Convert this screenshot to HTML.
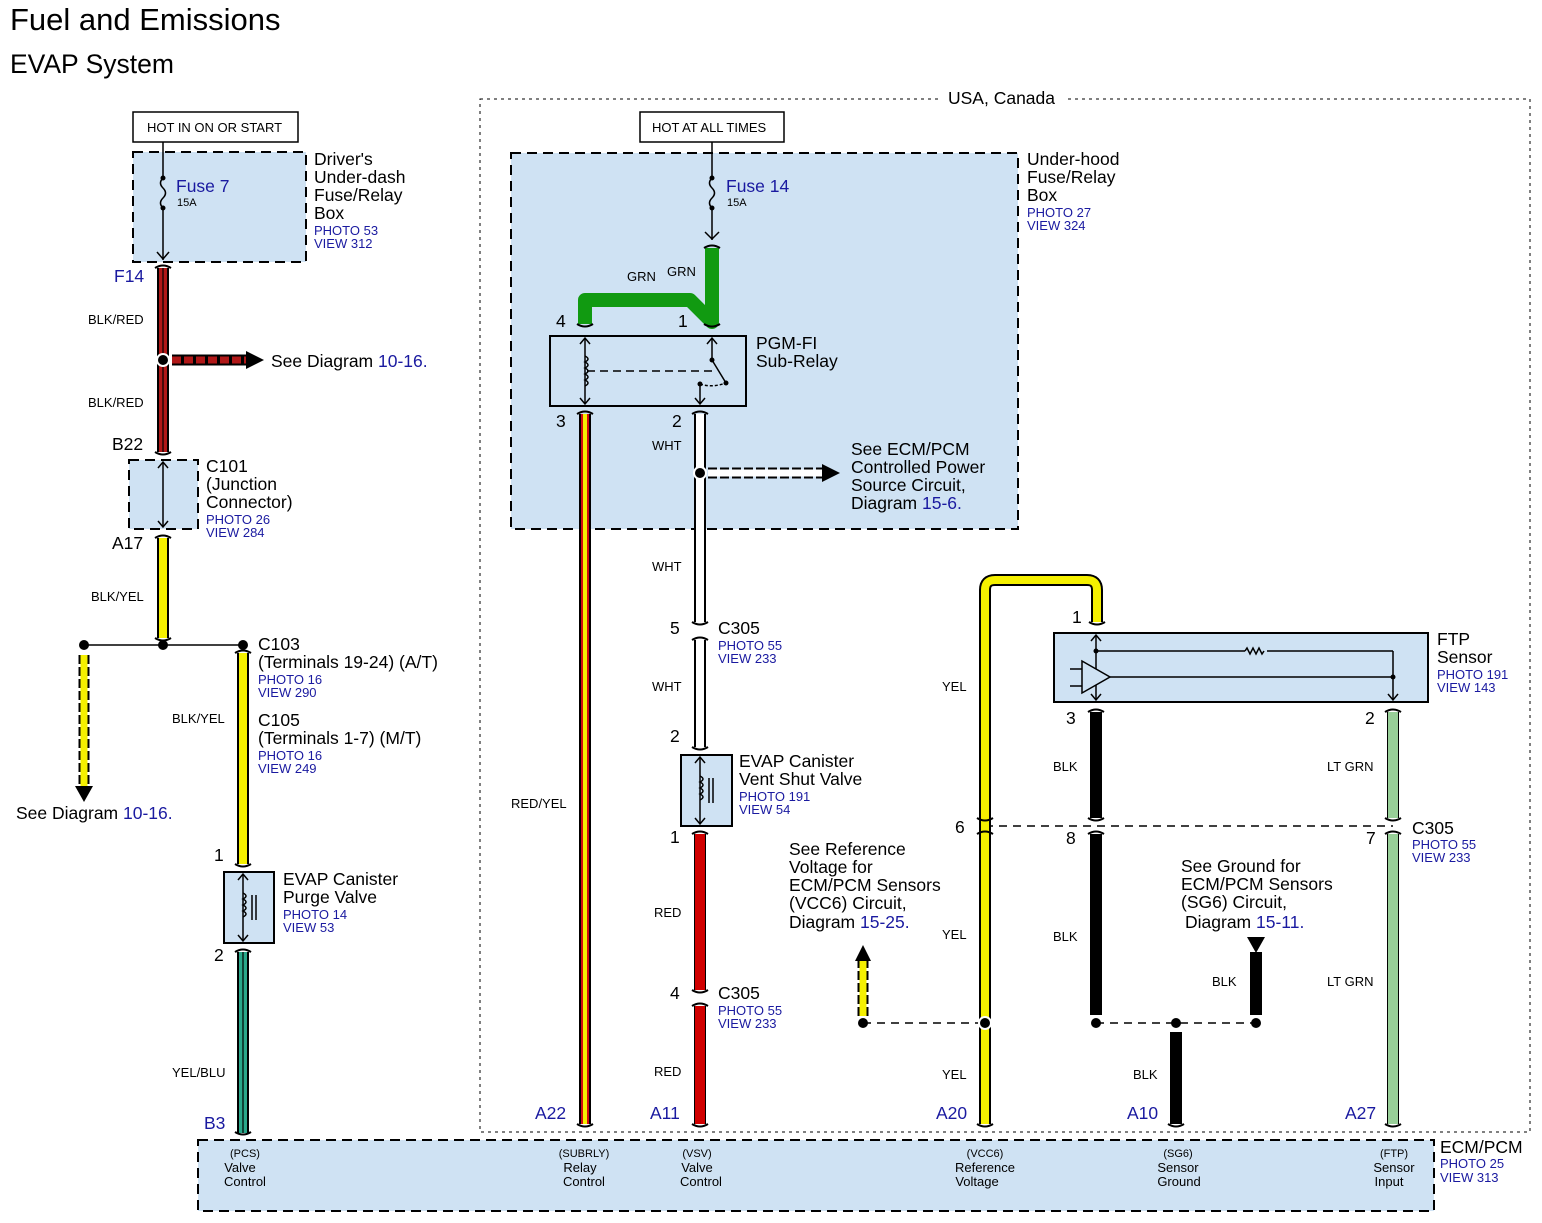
<!DOCTYPE html>
<html><head><meta charset="utf-8"><style>
html,body{margin:0;padding:0;background:#fff}
svg{display:block}
text{font-family:"Liberation Sans",Arial,sans-serif;fill:#000}
.s{font-size:13px}
.m{font-size:17.5px}
.b{fill:#1a1aa0}
.p{font-size:13px;fill:#1a1aa0}
.t{font-size:11px}
</style></head><body>
<svg width="1542" height="1223" viewBox="0 0 1542 1223" xmlns="http://www.w3.org/2000/svg">
<text x="10" y="30" style="font-size:31px">Fuel and Emissions</text>
<text x="10" y="73" style="font-size:26.5px">EVAP System</text>

<rect x="480" y="99" width="1050" height="1033" fill="none" stroke="#000" stroke-width="1" stroke-dasharray="3,4"/>
<rect x="940" y="90" width="125" height="18" fill="#fff"/>
<text x="948" y="104" class="m">USA, Canada</text>

<rect x="133" y="112" width="165" height="30" fill="#fff" stroke="#000" stroke-width="1.5"/>
<text x="147" y="132" class="s">HOT IN ON OR START</text>
<rect x="640" y="112" width="144" height="30" fill="#fff" stroke="#000" stroke-width="1.5"/>
<text x="652" y="132" class="s">HOT AT ALL TIMES</text>

<g fill="#cfe2f3" stroke="#000" stroke-width="2" stroke-dasharray="10,6">
<rect x="133" y="152" width="173" height="110"/>
<rect x="129" y="460" width="69" height="69"/>
<rect x="511" y="153" width="507" height="376"/>
<rect x="198" y="1140" width="1236" height="71"/>
</g>
<g fill="#cfe2f3" stroke="#000" stroke-width="2">
<rect x="550" y="336" width="196" height="70"/>
<rect x="224" y="872" width="50" height="71"/>
<rect x="681" y="755" width="51" height="71"/>
<rect x="1054" y="633" width="374" height="69"/>
</g>

<g stroke="#000" stroke-width="1.5" fill="none">
<line x1="163" y1="142" x2="163" y2="178"/><path d="M163 178 q-5 5 0 10 q5 5 0 10 q-5 5 0 10"/><line x1="163" y1="208" x2="163" y2="260"/>
<path d="M157 252 l6 7 l6 -7"/>
<line x1="712" y1="142" x2="712" y2="178"/><path d="M712 178 q-5 5 0 10 q5 5 0 10 q-5 5 0 10"/><line x1="712" y1="208" x2="712" y2="240"/>
<path d="M705 232 l7 7 l7 -7"/>
<line x1="163" y1="462" x2="163" y2="527"/><path d="M158 468 l5 -6 l5 6 M158 521 l5 6 l5 -6"/>
<line x1="585" y1="338" x2="585" y2="404"/><path d="M580 344 l5 -6 l5 6 M580 398 l5 6 l5 -6"/>
<path d="M585 356 q6 3 0 6 q6 3 0 6 q6 3 0 6 q6 3 0 6 q6 3 0 6"/>
<line x1="587" y1="371" x2="712" y2="371" stroke-dasharray="8,5"/>
<line x1="712" y1="338" x2="712" y2="360"/><path d="M707 344 l5 -6 l5 6"/>
<line x1="712" y1="360" x2="726" y2="383"/>
<path d="M700 384 q12 4 26 -1" stroke-dasharray="3,2"/>
<line x1="700" y1="384" x2="700" y2="404"/><path d="M695 398 l5 6 l5 -6"/>
<line x1="243" y1="874" x2="243" y2="941"/><path d="M238 880 l5 -6 l5 6 M238 935 l5 6 l5 -6"/>
<path d="M243 893 q6 3 0 6 q6 3 0 6 q6 3 0 6 q6 3 0 6"/><line x1="252" y1="895" x2="252" y2="920"/><line x1="256" y1="895" x2="256" y2="920"/>
<line x1="700" y1="757" x2="700" y2="824"/><path d="M695 763 l5 -6 l5 6 M695 818 l5 6 l5 -6"/>
<path d="M700 776 q6 3 0 6 q6 3 0 6 q6 3 0 6 q6 3 0 6"/><line x1="709" y1="778" x2="709" y2="803"/><line x1="713" y1="778" x2="713" y2="803"/>
<line x1="1096" y1="635" x2="1096" y2="700"/><path d="M1091 641 l5 -6 l5 6 M1091 694 l5 6 l5 -6"/>
<line x1="1096" y1="651" x2="1245" y2="651"/><path d="M1245 651 l2 -3 l3 6 l3 -6 l3 6 l3 -6 l3 6 l2 -3"/><line x1="1267" y1="651" x2="1393" y2="651"/>
<line x1="1393" y1="651" x2="1393" y2="700"/><path d="M1388 694 l5 6 l5 -6"/>
<path d="M1082 661 l0 32 l28 -16 z" fill="#cfe2f3"/><line x1="1110" y1="677" x2="1393" y2="677"/>
<line x1="1070" y1="669" x2="1082" y2="669"/><line x1="1070" y1="686" x2="1082" y2="686"/>
</g>
<g fill="#000">
<circle cx="163" cy="178" r="2.5"/><circle cx="163" cy="208" r="2.5"/>
<circle cx="712" cy="178" r="2.5"/><circle cx="712" cy="208" r="2.5"/>
<circle cx="712" cy="360" r="2.5"/><circle cx="726" cy="383" r="2.5"/><circle cx="700" cy="384" r="2.5"/>
<circle cx="1096" cy="651" r="2.5"/><circle cx="1393" cy="677" r="2.5"/>
</g>

<g stroke="#000" stroke-width="1.5" stroke-dasharray="8,6" fill="none">
<line x1="985" y1="826" x2="1393" y2="826"/>
<line x1="863" y1="1023" x2="985" y2="1023"/>
<line x1="1096" y1="1023" x2="1256" y2="1023"/>
</g>
<line x1="84" y1="645" x2="243" y2="645" stroke="#000" stroke-width="1.5"/>

<g stroke="#000" stroke-width="12" fill="none" stroke-linejoin="round">
<line x1="163" y1="268" x2="163" y2="452"/>
<line x1="163" y1="538" x2="163" y2="638"/>
<line x1="243" y1="653" x2="243" y2="864"/>
<line x1="243" y1="952" x2="243" y2="1133"/>
<line x1="585" y1="414" x2="585" y2="1124"/>
<line x1="700" y1="414" x2="700" y2="622"/>
<line x1="700" y1="640" x2="700" y2="747"/>
<line x1="700" y1="834" x2="700" y2="990"/>
<line x1="700" y1="1006" x2="700" y2="1124"/>
<path d="M985 1124 V590 q0 -10 10 -10 H1087 q10 0 10 10 V622"/>
<line x1="1096" y1="712" x2="1096" y2="818"/>
<line x1="1096" y1="834" x2="1096" y2="1015"/>
<line x1="1393" y1="712" x2="1393" y2="818"/>
<line x1="1393" y1="834" x2="1393" y2="1124"/>
<line x1="1256" y1="952" x2="1256" y2="1015"/>
<line x1="1176" y1="1032" x2="1176" y2="1124"/>
</g>
<g stroke-width="8" fill="none" stroke-linejoin="round">
<line x1="163" y1="268" x2="163" y2="452" stroke="#b01818"/>
<line x1="163" y1="538" x2="163" y2="638" stroke="#f5f000"/>
<line x1="243" y1="653" x2="243" y2="864" stroke="#f5f000"/>
<line x1="243" y1="952" x2="243" y2="1133" stroke="#2aa88a"/>
<line x1="585" y1="414" x2="585" y2="1124" stroke="#d01010"/>
<line x1="700" y1="414" x2="700" y2="622" stroke="#fff"/>
<line x1="700" y1="640" x2="700" y2="747" stroke="#fff"/>
<line x1="700" y1="834" x2="700" y2="990" stroke="#d00000" stroke-width="10"/>
<line x1="700" y1="1006" x2="700" y2="1124" stroke="#d00000" stroke-width="10"/>
<path d="M985 1124 V590 q0 -10 10 -10 H1087 q10 0 10 10 V622" stroke="#f5f000"/>
<line x1="1393" y1="712" x2="1393" y2="818" stroke="#98cf98" stroke-width="10"/>
<line x1="1393" y1="834" x2="1393" y2="1124" stroke="#98cf98" stroke-width="10"/>
</g>
<g stroke-width="1.2">
<line x1="163" y1="268" x2="163" y2="452" stroke="#000"/>
<line x1="243" y1="952" x2="243" y2="1133" stroke="#000"/>
</g>
<line x1="585" y1="414" x2="585" y2="1124" stroke="#f5f000" stroke-width="4"/>
<path d="M585 324 V300 H690 L712 322 V248" stroke="#119a11" stroke-width="14" fill="none" stroke-linejoin="round"/>

<g stroke="#000" stroke-width="2" fill="none">
<path d="M155 268 q8 -5 16 0 M155 452 q8 5 16 0 M155 538 q8 -5 16 0 M155 638 q8 5 16 0
M235 653 q8 -5 16 0 M235 864 q8 5 16 0 M235 952 q8 -5 16 0 M235 1132 q8 5 16 0
M577 324 q8 5 16 0 M577 414 q8 -5 16 0 M704 248 q8 -5 16 0 M704 324 q8 5 16 0 M692 414 q8 -5 16 0
M692 622 q8 5 16 0 M692 640 q8 -5 16 0 M692 747 q8 5 16 0 M692 834 q8 -5 16 0 M692 990 q8 5 16 0 M692 1006 q8 -5 16 0
M577 1124 q8 5 16 0 M692 1124 q8 5 16 0 M977 1124 q8 5 16 0 M1168 1124 q8 5 16 0 M1385 1124 q8 5 16 0
M1089 622 q8 5 16 0 M1088 712 q8 -5 16 0 M1385 712 q8 -5 16 0
M977 818 q8 5 16 0 M977 834 q8 -5 16 0 M1088 818 q8 5 16 0 M1088 834 q8 -5 16 0 M1385 818 q8 5 16 0 M1385 834 q8 -5 16 0"/>
</g>

<g fill="#000">
<circle cx="163" cy="360" r="7" fill="#fff"/><circle cx="163" cy="360" r="5"/>
<circle cx="84" cy="645" r="5"/><circle cx="163" cy="645" r="5"/><circle cx="243" cy="645" r="5"/>
<circle cx="700" cy="473" r="7" fill="#fff"/><circle cx="700" cy="473" r="5"/>
<circle cx="863" cy="1023" r="5"/><circle cx="985" cy="1023" r="7" fill="#fff"/><circle cx="985" cy="1023" r="5"/>
<circle cx="1096" cy="1023" r="5"/><circle cx="1176" cy="1023" r="5"/><circle cx="1256" cy="1023" r="5"/>
</g>

<line x1="172" y1="360" x2="248" y2="360" stroke="#000" stroke-width="11"/>
<line x1="172" y1="360" x2="248" y2="360" stroke="#b01818" stroke-width="7" stroke-dasharray="9,3"/>
<path d="M246 351 l18 9 l-18 9 z" fill="#000"/>
<line x1="708" y1="473" x2="822" y2="473" stroke="#000" stroke-width="11" stroke-dasharray="9,3"/>
<line x1="708" y1="473" x2="822" y2="473" stroke="#fff" stroke-width="7"/>
<path d="M822 464 l18 9 l-18 9 z" fill="#000"/>
<line x1="84" y1="655" x2="84" y2="786" stroke="#000" stroke-width="11" stroke-dasharray="9,3"/>
<line x1="84" y1="655" x2="84" y2="786" stroke="#f5f000" stroke-width="7"/>
<path d="M75 786 l9 16 l9 -16 z" fill="#000"/>
<line x1="863" y1="1016" x2="863" y2="960" stroke="#000" stroke-width="11" stroke-dasharray="9,3"/>
<line x1="863" y1="1016" x2="863" y2="960" stroke="#f5f000" stroke-width="7"/>
<path d="M855 961 l8 -16 l8 16 z" fill="#000"/>
<path d="M1247 937 l9 16 l9 -16 z" fill="#000"/>

<text x="176" y="192" class="m b">Fuse 7</text><text x="177" y="206" class="t">15A</text>
<text x="314" y="165" class="m">Driver's</text><text x="314" y="183" class="m">Under-dash</text><text x="314" y="201" class="m">Fuse/Relay</text><text x="314" y="219" class="m">Box</text>
<text x="314" y="235" class="p">PHOTO 53</text><text x="314" y="248" class="p">VIEW 312</text>
<text x="114" y="282" class="m b">F14</text>
<text x="88" y="324" class="s">BLK/RED</text><text x="88" y="407" class="s">BLK/RED</text>
<text x="271" y="367" class="m">See Diagram <tspan class="b">10-16.</tspan></text>
<text x="112" y="450" class="m">B22</text>
<text x="206" y="472" class="m">C101</text><text x="206" y="490" class="m">(Junction</text><text x="206" y="508" class="m">Connector)</text>
<text x="206" y="524" class="p">PHOTO 26</text><text x="206" y="537" class="p">VIEW 284</text>
<text x="112" y="549" class="m">A17</text>
<text x="91" y="601" class="s">BLK/YEL</text>
<text x="258" y="650" class="m">C103</text><text x="258" y="668" class="m">(Terminals 19-24) (A/T)</text>
<text x="258" y="684" class="p">PHOTO 16</text><text x="258" y="697" class="p">VIEW 290</text>
<text x="172" y="723" class="s">BLK/YEL</text>
<text x="258" y="726" class="m">C105</text><text x="258" y="744" class="m">(Terminals 1-7) (M/T)</text>
<text x="258" y="760" class="p">PHOTO 16</text><text x="258" y="773" class="p">VIEW 249</text>
<text x="16" y="819" class="m">See Diagram <tspan class="b">10-16.</tspan></text>
<text x="214" y="861" class="m">1</text>
<text x="283" y="885" class="m">EVAP Canister</text><text x="283" y="903" class="m">Purge Valve</text>
<text x="283" y="919" class="p">PHOTO 14</text><text x="283" y="932" class="p">VIEW 53</text>
<text x="214" y="961" class="m">2</text>
<text x="172" y="1077" class="s">YEL/BLU</text>
<text x="204" y="1129" class="m b">B3</text>

<text x="726" y="192" class="m b">Fuse 14</text><text x="727" y="206" class="t">15A</text>
<text x="1027" y="165" class="m">Under-hood</text><text x="1027" y="183" class="m">Fuse/Relay</text><text x="1027" y="201" class="m">Box</text>
<text x="1027" y="217" class="p">PHOTO 27</text><text x="1027" y="230" class="p">VIEW 324</text>
<text x="627" y="281" class="s">GRN</text><text x="667" y="276" class="s">GRN</text>
<text x="556" y="327" class="m">4</text><text x="678" y="327" class="m">1</text>
<text x="756" y="349" class="m">PGM-FI</text><text x="756" y="367" class="m">Sub-Relay</text>
<text x="556" y="427" class="m">3</text><text x="672" y="427" class="m">2</text>
<text x="652" y="450" class="s">WHT</text>
<text x="851" y="455" class="m">See ECM/PCM</text><text x="851" y="473" class="m">Controlled Power</text><text x="851" y="491" class="m">Source Circuit,</text><text x="851" y="509" class="m">Diagram <tspan class="b">15-6.</tspan></text>
<text x="652" y="571" class="s">WHT</text>
<text x="670" y="634" class="m">5</text><text x="718" y="634" class="m">C305</text>
<text x="718" y="650" class="p">PHOTO 55</text><text x="718" y="663" class="p">VIEW 233</text>
<text x="652" y="691" class="s">WHT</text>
<text x="670" y="742" class="m">2</text>
<text x="739" y="767" class="m">EVAP Canister</text><text x="739" y="785" class="m">Vent Shut Valve</text>
<text x="739" y="801" class="p">PHOTO 191</text><text x="739" y="814" class="p">VIEW 54</text>
<text x="670" y="843" class="m">1</text>
<text x="511" y="808" class="s">RED/YEL</text>
<text x="654" y="917" class="s">RED</text>
<text x="670" y="999" class="m">4</text><text x="718" y="999" class="m">C305</text>
<text x="718" y="1015" class="p">PHOTO 55</text><text x="718" y="1028" class="p">VIEW 233</text>
<text x="654" y="1076" class="s">RED</text>
<text x="535" y="1119" class="m b">A22</text><text x="650" y="1119" class="m b">A11</text>

<text x="1072" y="623" class="m">1</text>
<text x="1437" y="645" class="m">FTP</text><text x="1437" y="663" class="m">Sensor</text>
<text x="1437" y="679" class="p">PHOTO 191</text><text x="1437" y="692" class="p">VIEW 143</text>
<text x="942" y="691" class="s">YEL</text>
<text x="1066" y="724" class="m">3</text><text x="1365" y="724" class="m">2</text>
<text x="1053" y="771" class="s">BLK</text><text x="1327" y="771" class="s">LT GRN</text>
<text x="955" y="833" class="m">6</text><text x="1066" y="844" class="m">8</text><text x="1366" y="844" class="m">7</text>
<text x="1412" y="834" class="m">C305</text><text x="1412" y="849" class="p">PHOTO 55</text><text x="1412" y="862" class="p">VIEW 233</text>
<text x="789" y="855" class="m">See Reference</text><text x="789" y="873" class="m">Voltage for</text><text x="789" y="891" class="m">ECM/PCM Sensors</text><text x="789" y="909" class="m">(VCC6) Circuit,</text><text x="789" y="928" class="m">Diagram <tspan class="b">15-25.</tspan></text>
<text x="1181" y="872" class="m">See Ground for</text><text x="1181" y="890" class="m">ECM/PCM Sensors</text><text x="1181" y="908" class="m">(SG6) Circuit,</text><text x="1185" y="928" class="m">Diagram <tspan class="b">15-11.</tspan></text>
<text x="942" y="939" class="s">YEL</text><text x="1053" y="941" class="s">BLK</text>
<text x="1212" y="986" class="s">BLK</text><text x="1327" y="986" class="s">LT GRN</text>
<text x="942" y="1079" class="s">YEL</text><text x="1133" y="1079" class="s">BLK</text>
<text x="936" y="1119" class="m b">A20</text><text x="1127" y="1119" class="m b">A10</text><text x="1345" y="1119" class="m b">A27</text>

<g class="t" text-anchor="middle">
<text x="245" y="1157" class="t">(PCS)</text><text x="240" y="1172" class="s">Valve</text><text x="245" y="1186" class="s">Control</text>
<text x="584" y="1157" class="t">(SUBRLY)</text><text x="580" y="1172" class="s">Relay</text><text x="584" y="1186" class="s">Control</text>
<text x="697" y="1157" class="t">(VSV)</text><text x="697" y="1172" class="s">Valve</text><text x="701" y="1186" class="s">Control</text>
<text x="985" y="1157" class="t">(VCC6)</text><text x="985" y="1172" class="s">Reference</text><text x="977" y="1186" class="s">Voltage</text>
<text x="1178" y="1157" class="t">(SG6)</text><text x="1178" y="1172" class="s">Sensor</text><text x="1179" y="1186" class="s">Ground</text>
<text x="1394" y="1157" class="t">(FTP)</text><text x="1394" y="1172" class="s">Sensor</text><text x="1389" y="1186" class="s">Input</text>
</g>
<text x="1440" y="1153" class="m">ECM/PCM</text><text x="1440" y="1168" class="p">PHOTO 25</text><text x="1440" y="1182" class="p">VIEW 313</text>
</svg>
</body></html>
